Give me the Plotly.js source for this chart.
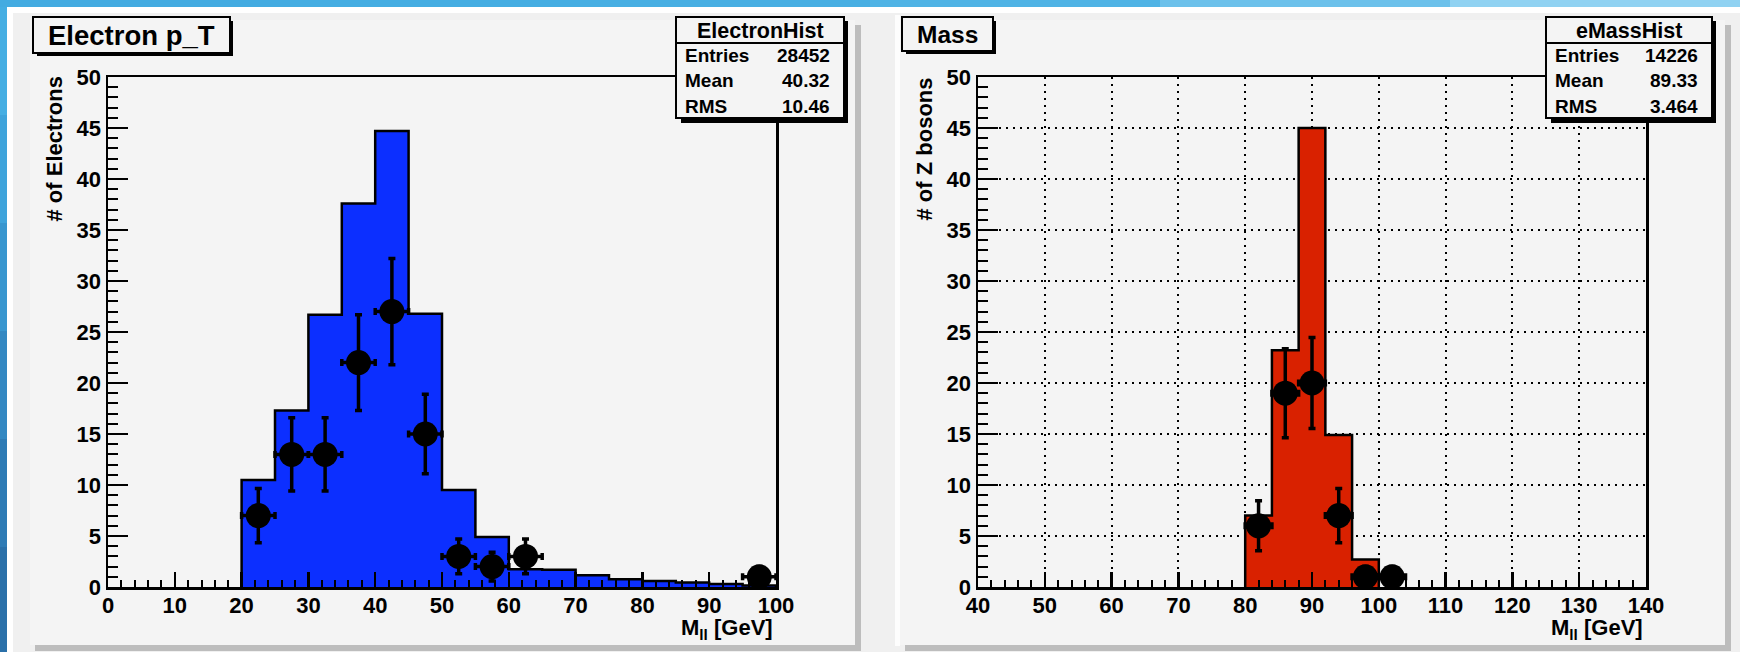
<!DOCTYPE html>
<html>
<head>
<meta charset="utf-8">
<script src="https://cdn.plot.ly/plotly-3.0.1.min.js"></script>
<style>
  html, body { margin: 0; padding: 0; background: #f0f0f0; }
  #plot { width: 1740px; height: 652px; }
</style>
</head>
<body>
<div id="plot"></div>
<script>
// ---- Electron p_T histogram (MC, filled) and data points ----
const electronEdges = [20, 25, 30, 35, 40, 45, 50, 55, 60, 65, 70, 75, 80, 85, 90, 95, 100];
const electronMC = [10.5, 17.3, 26.7, 37.6, 44.7, 26.8, 9.5, 4.9, 1.75, 1.7, 1.15, 0.75, 0.6, 0.45, 0.3, 0.15];
const electronDataX = [22.5, 27.5, 32.5, 37.5, 42.5, 47.5, 52.5, 57.5, 62.5, 97.5];
const electronDataY = [7, 13, 13, 22, 27, 15, 3, 2, 3, 1];
const electronDataErr = [2.65, 3.6, 3.6, 4.7, 5.2, 3.9, 1.7, 1.4, 1.7, 1.0];
const electronHalfBin = 2.5;
const electronStats = { name: 'ElectronHist', entries: '28452', mean: '40.32', rms: '10.46' };

// ---- Dilepton mass histogram (MC, filled) and data points ----
const massEdges = [80, 84, 88, 92, 96, 100];
const massMC = [7.0, 23.2, 45.0, 14.9, 2.7];
const massDataX = [82, 86, 90, 94, 98, 102];
const massDataY = [6, 19, 20, 7, 1, 1];
const massDataErr = [2.45, 4.36, 4.47, 2.65, 1.0, 1.0];
const massHalfBin = 2;
const massStats = { name: 'eMassHist', entries: '14226', mean: '89.33', rms: '3.464' };

const W = 1740, H = 652;
const FONT = 'Liberation Sans, Arial, Helvetica, sans-serif';
const fx = p => p / W;
const fy = p => 1 - p / H;

// closed step outline through bin edges, filled down to zero
function stepPath(edges, vals) {
  const xs = [edges[0]], ys = [0];
  for (let i = 0; i < vals.length; i++) { xs.push(edges[i]); ys.push(vals[i]); }
  xs.push(edges[edges.length - 1]); ys.push(vals[vals.length - 1]);
  xs.push(edges[edges.length - 1]); ys.push(0);
  return { xs, ys };
}

function rect(x0, y0, x1, y1, fill, layer, lineColor, lineWidth) {
  return {
    type: 'rect', xref: 'paper', yref: 'paper',
    x0: fx(x0), x1: fx(x1), y0: fy(y1), y1: fy(y0),
    fillcolor: fill, layer: layer || 'below',
    line: { width: lineWidth || 0, color: lineColor || 'rgba(0,0,0,0)' }
  };
}
function hline(x0, x1, y, w) {
  return { type: 'line', xref: 'paper', yref: 'paper', x0: fx(x0), x1: fx(x1), y0: fy(y), y1: fy(y),
           layer: 'above', line: { color: 'black', width: w } };
}
function txt(x, y, text, size, xanchor, extra) {
  return Object.assign({
    xref: 'paper', yref: 'paper', x: fx(x), y: fy(y), text: text, showarrow: false,
    xanchor: xanchor || 'center', yanchor: 'middle',
    font: { family: FONT, size: size, color: 'black', weight: 'bold' }
  }, extra || {});
}

const e = stepPath(electronEdges, electronMC);
const m = stepPath(massEdges, massMC);

const errStyle = { color: 'black', thickness: 3.5, width: 3.5 };

const traces = [
  { x: e.xs, y: e.ys, xaxis: 'x', yaxis: 'y', mode: 'lines', type: 'scatter',
    line: { shape: 'hv', color: 'black', width: 2.5 }, fill: 'tozeroy', fillcolor: '#0c2fff',
    hoverinfo: 'skip', showlegend: false },
  { x: electronDataX, y: electronDataY, xaxis: 'x', yaxis: 'y', mode: 'markers', type: 'scatter',
    marker: { color: 'black', size: 25, symbol: 'circle' }, cliponaxis: false,
    error_x: Object.assign({ type: 'constant', value: electronHalfBin }, errStyle),
    error_y: Object.assign({ type: 'data', array: electronDataErr }, errStyle),
    showlegend: false },
  { x: m.xs, y: m.ys, xaxis: 'x2', yaxis: 'y2', mode: 'lines', type: 'scatter',
    line: { shape: 'hv', color: 'black', width: 2.5 }, fill: 'tozeroy', fillcolor: '#d92100',
    hoverinfo: 'skip', showlegend: false },
  { x: massDataX, y: massDataY, xaxis: 'x2', yaxis: 'y2', mode: 'markers', type: 'scatter',
    marker: { color: 'black', size: 25, symbol: 'circle' }, cliponaxis: false,
    error_x: Object.assign({ type: 'constant', value: massHalfBin }, errStyle),
    error_y: Object.assign({ type: 'data', array: massDataErr }, errStyle),
    showlegend: false }
];

const tickFont = { family: FONT, size: 22, color: 'black', weight: 'bold' };

function xAxis(domain, range, anchor, grid) {
  return {
    domain: domain, range: range, anchor: anchor,
    tickmode: 'linear', tick0: range[0], dtick: 10,
    ticks: 'inside', ticklen: 15, tickwidth: 2.5, tickcolor: 'black',
    minor: { dtick: 2, ticks: 'inside', ticklen: 7, tickwidth: 2, tickcolor: 'black', showgrid: false },
    showline: true, linecolor: 'black', linewidth: 2.5, mirror: true,
    showgrid: grid, gridcolor: 'black', gridwidth: 2, griddash: '2px,5px',
    zeroline: false, tickfont: tickFont, ticklabelstandoff: -3, fixedrange: true
  };
}
function yAxis(domain, anchor, grid) {
  return {
    domain: domain, range: [0, 50], anchor: anchor,
    tickmode: 'linear', tick0: 0, dtick: 5,
    ticks: 'inside', ticklen: 20, tickwidth: 2.5, tickcolor: 'black',
    minor: { dtick: 1, ticks: 'inside', ticklen: 10, tickwidth: 2, tickcolor: 'black', showgrid: false },
    showline: true, linecolor: 'black', linewidth: 2.5, mirror: true,
    showgrid: grid, gridcolor: 'black', gridwidth: 2, griddash: '2px,5px',
    zeroline: false, tickfont: tickFont, fixedrange: true
  };
}

const plotTop = 77, plotBottom = 587;
const leftX0 = 108, leftX1 = 776, offset = 870;
const yDom = [fy(plotBottom), fy(plotTop)];

const shapes = [];
// slide frame: blue bands along top and left
const topBlues = ['#43abe1', '#45ade2', '#48afe3', '#4fb3e5', '#6cc1eb', '#90d2f2'];
for (let i = 0; i < topBlues.length; i++) {
  shapes.push(rect(i * 290, 0, (i + 1) * 290, 7, topBlues[i]));
}
const leftBlues = ['#45aee3', '#3ea3db', '#3896cf', '#3388c2', '#2e7bb5', '#2a70a9'];
for (let i = 0; i < leftBlues.length; i++) {
  shapes.push(rect(0, 7 + i * 108, 7, 7 + (i + 1) * 108, leftBlues[i]));
}
shapes.push(rect(7, 7, W, 13, '#ffffff'));
shapes.push(rect(7, 7, 13, H, '#ffffff'));

// two canvas pads with bevelled edges
[0, offset].forEach((o, k) => {
  if (k === 1) shapes.push(rect(o + 25, 15, o + 30, 646, '#fdfdfd'));
  shapes.push(rect(o + 30, 20, o + 855, 645, '#f4f4f4'));
  shapes.push(rect(o + 855, 25, o + 861, 651, '#bdbdbd'));
  shapes.push(rect(o + 35, 645, o + 861, 651, '#bdbdbd'));
});

// title boxes
function titleBox(x0, y0, x1, y1) {
  shapes.push(rect(x0 + 4, y0 + 4, x1 + 3, y1 + 3, '#000000', 'above'));
  shapes.push(rect(x0, y0, x1, y1, '#f4f4f4', 'above', 'black', 2));
}
titleBox(33, 17, 230, 53);
titleBox(offset + 32, 17, offset + 123, 51);

// statistics boxes
function statsBox(x0, y0, x1, y1, sep) {
  shapes.push(rect(x0 + 5, y0 + 4, x1 + 4, y1 + 5, '#000000', 'above'));
  shapes.push(rect(x0, y0, x1, y1, '#f4f4f4', 'above', 'black', 2));
  shapes.push(hline(x0, x1, sep, 2));
}
statsBox(676, 17, 844, 118, 43);
statsBox(offset + 676, 17, offset + 842, 118, 43);

const annotations = [];
annotations.push(txt(131, 35, 'Electron p_T', 27.5));
annotations.push(txt(offset + 77, 34, 'Mass', 24.5));

function statsText(st, x0, x1) {
  annotations.push(txt((x0 + x1) / 2, 31, st.name, 21.5));
  const rows = [['Entries', st.entries, 55.5], ['Mean', st.mean, 80.5], ['RMS', st.rms, 106.5]];
  rows.forEach(r => {
    annotations.push(txt(x0 + 7, r[2], r[0], 19, 'left'));
    annotations.push(txt(x1 - 12, r[2], r[1], 19, 'right'));
  });
}
statsText(electronStats, 676, 844);
statsText(massStats, offset + 676, offset + 842);

// axis titles
annotations.push(txt(54, 75, '# of Electrons', 22, 'center', { textangle: -90, yanchor: 'top' }));
annotations.push(txt(offset + 54, 75, '# of Z bosons', 22, 'center', { textangle: -90, yanchor: 'top' }));
annotations.push(txt(775, 629, 'M<sub>ll</sub> [GeV]', 22, 'right'));
annotations.push(txt(offset + 775, 629, 'M<sub>ll</sub> [GeV]', 22, 'right'));

const layout = {
  width: W, height: H,
  margin: { l: 0, r: 0, t: 0, b: 0, pad: 0 },
  paper_bgcolor: '#f0f0f0', plot_bgcolor: '#f4f4f4',
  showlegend: false, hovermode: false,
  xaxis: xAxis([fx(leftX0), fx(leftX1)], [0, 100], 'y', false),
  yaxis: yAxis(yDom, 'x', false),
  xaxis2: xAxis([fx(leftX0 + offset), fx(leftX1 + offset)], [40, 140], 'y2', true),
  yaxis2: yAxis(yDom, 'x2', true),
  shapes: shapes,
  annotations: annotations
};

Plotly.newPlot('plot', traces, layout, { displayModeBar: false, staticPlot: true });
</script>
</body>
</html>
